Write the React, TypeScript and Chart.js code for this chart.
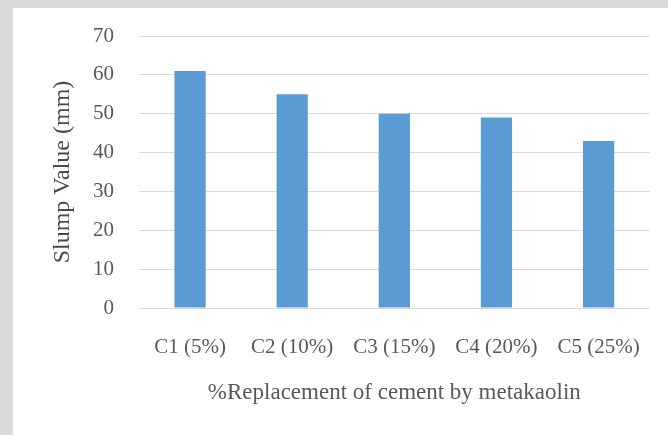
import React, { useEffect, useRef } from "react";
import { Chart, registerables } from "chart.js";

Chart.register(...registerables);

// Mix designs and their measured slump
const categories = ["C1 (5%)", "C2 (10%)", "C3 (15%)", "C4 (20%)", "C5 (25%)"];
const slumpValues = [61, 55, 50, 49, 43];
const yTicks = [0, 10, 20, 30, 40, 50, 60, 70];

const FONT = "'Liberation Serif', 'Times New Roman', serif";
const TEXT = "#595959";

export default function App() {
  const canvasRef = useRef<HTMLCanvasElement | null>(null);

  useEffect(() => {
    if (!canvasRef.current) return;
    const chart = new Chart(canvasRef.current, {
      type: "bar",
      data: {
        labels: categories,
        datasets: [
          {
            label: "Slump Value (mm)",
            data: slumpValues,
            backgroundColor: "#5b9bd5",
            borderWidth: 0,
            categoryPercentage: 1,
            barPercentage: 0.306,
          },
        ],
      },
      options: {
        animation: false,
        responsive: true,
        maintainAspectRatio: false,
        layout: { padding: { top: 28, right: 13, left: 0, bottom: 0 } },
        plugins: {
          legend: { display: false },
          tooltip: { enabled: false },
        },
        scales: {
          x: {
            grid: { display: false, drawTicks: false },
            border: { display: false },
            ticks: {
              color: TEXT,
              font: { family: FONT, size: 21 },
              padding: 27,
              autoSkip: false,
              maxRotation: 0,
              minRotation: 0,
            },
            title: {
              display: true,
              text: "%Replacement of cement by metakaolin",
              color: TEXT,
              font: { family: FONT, size: 23 },
              padding: { top: 0, bottom: 28 },
            },
            afterFit: (scale: any) => {
              scale.height = 127;
            },
          },
          y: {
            min: 0,
            max: 70,
            afterBuildTicks: (scale: any) => {
              scale.ticks = yTicks.map((v) => ({ value: v }));
            },
            grid: {
              color: "#d9d9d9",
              lineWidth: 1,
              drawTicks: true,
              tickLength: 25,
              tickColor: "rgba(0,0,0,0)",
            },
            border: { display: false },
            ticks: {
              color: TEXT,
              font: { family: FONT, size: 21 },
              padding: 0,
            },
            title: {
              display: true,
              text: "Slump Value (mm)",
              color: "#4a4a4a",
              font: { family: FONT, size: 24 },
              padding: { top: 35, bottom: 0 },
            },
            afterFit: (scale: any) => {
              scale.width = 126;
            },
          },
        },
      },
    });
    return () => chart.destroy();
  }, []);

  return (
    <div
      style={{
        position: "fixed",
        left: 0,
        top: 0,
        width: 668,
        height: 435,
        background: "#d9d9d9",
        overflow: "hidden",
      }}
    >
      <div
        style={{
          position: "absolute",
          left: 13,
          top: 8,
          width: 655,
          height: 427,
          background: "#ffffff",
        }}
      >
        <canvas ref={canvasRef} />
      </div>
    </div>
  );
}
